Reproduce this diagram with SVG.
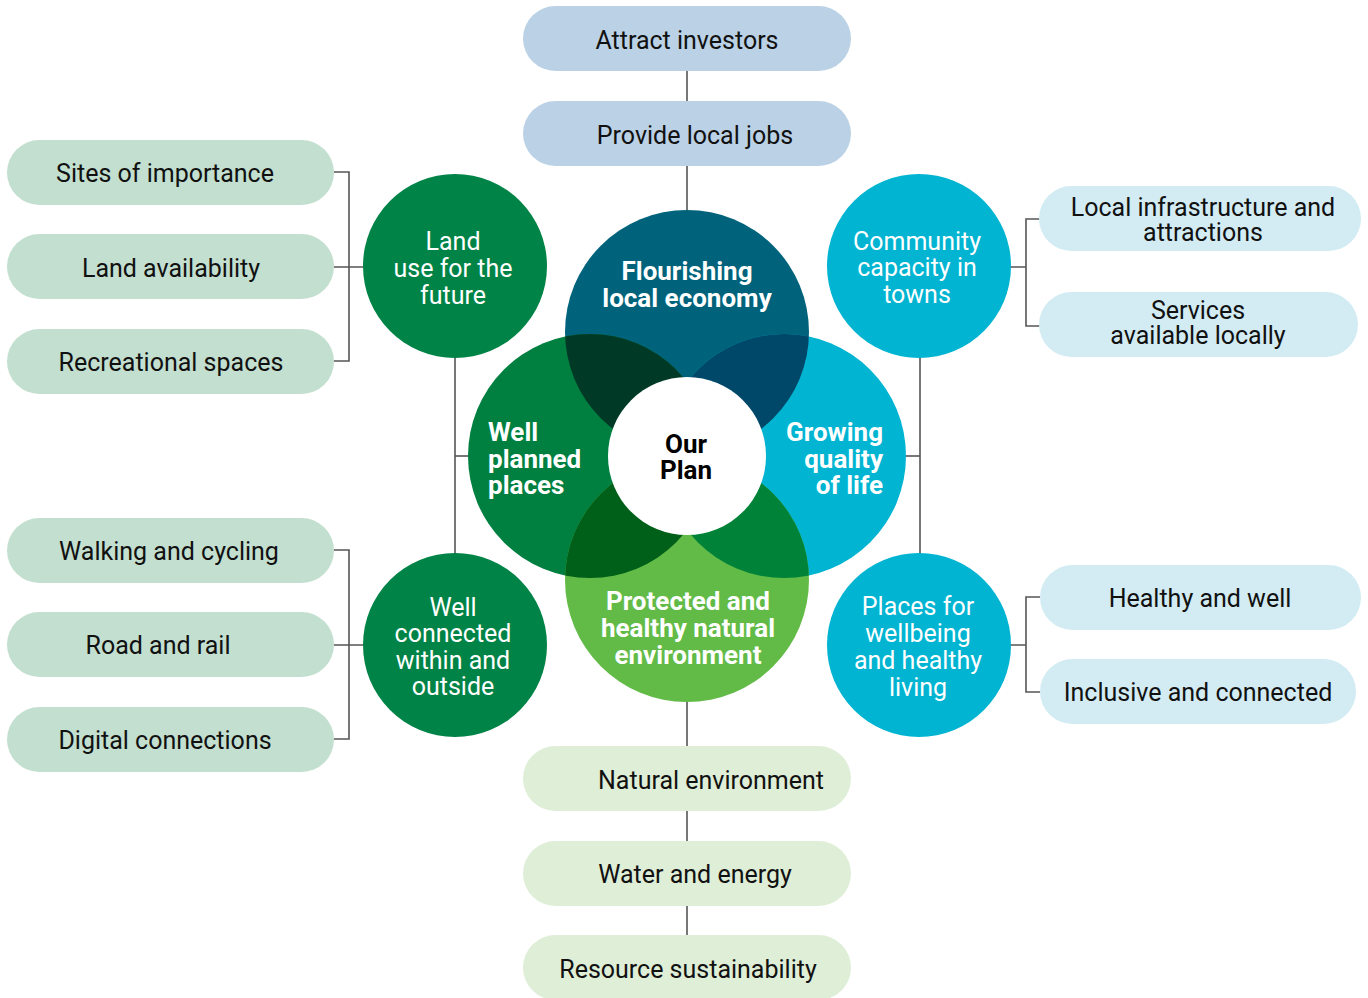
<svg xmlns="http://www.w3.org/2000/svg" width="1368" height="998" viewBox="0 0 1368 998">
<defs>
<style>
.t{font-family:Roboto,"Liberation Sans",sans-serif;font-size:25px;fill:#111;text-anchor:middle}
.w{font-family:Roboto,"Liberation Sans",sans-serif;font-size:25px;fill:#fff;text-anchor:middle}
.b{font-family:Roboto,"Liberation Sans",sans-serif;font-size:26px;font-weight:bold;fill:#fff;text-anchor:middle}
.ln{stroke:#555;stroke-width:1.6;fill:none}
.pl{fill:#C3DFCF}.pt{fill:#BBD2E6}.pb{fill:#DFEED7}.pr{fill:#D3ECF3}
</style>
<clipPath id="cTop"><circle cx="687" cy="332" r="122"/></clipPath>
<clipPath id="cBot"><circle cx="687" cy="580" r="122"/></clipPath>
</defs>
<rect width="1368" height="998" fill="#fff"/>
<g id="connectors">
<line class="ln" x1="687" y1="70" x2="687" y2="212"/>
<line class="ln" x1="687" y1="700" x2="687" y2="936"/>
<line class="ln" x1="455" y1="266" x2="455" y2="645"/>
<line class="ln" x1="455" y1="456" x2="470" y2="456"/>
<line class="ln" x1="920" y1="266" x2="920" y2="645"/>
<line class="ln" x1="904" y1="456" x2="920" y2="456"/>
<path class="ln" d="M334 172H349V361H334M334 267H364"/>
<path class="ln" d="M334 550H349V739H334M334 645H364"/>
<path class="ln" d="M1040 219H1026V326H1040M1010 267H1026"/>
<path class="ln" d="M1040 597H1026V692H1040M1010 645H1026"/>
</g>
<g id="pill-attract"><rect class="pt" x="523" y="6" width="328" height="65" rx="32.5"/><text class="t" x="687" y="49">Attract investors</text></g>
<g id="pill-jobs"><rect class="pt" x="523" y="101" width="328" height="65" rx="32.5"/><text class="t" x="695" y="144">Provide local jobs</text></g>
<g id="pill-natural"><rect class="pb" x="523" y="746" width="328" height="65" rx="32.5"/><text class="t" x="711" y="789">Natural environment</text></g>
<g id="pill-water"><rect class="pb" x="523" y="841" width="328" height="65" rx="32.5"/><text class="t" x="695" y="883">Water and energy</text></g>
<g id="pill-resource"><rect class="pb" x="523" y="935" width="328" height="65" rx="32.5"/><text class="t" x="688" y="978">Resource sustainability</text></g>
<g id="pill-sites"><rect class="pl" x="7" y="140" width="327" height="65" rx="32.5"/><text class="t" x="165" y="182">Sites of importance</text></g>
<g id="pill-land"><rect class="pl" x="7" y="234" width="327" height="65" rx="32.5"/><text class="t" x="171" y="277">Land availability</text></g>
<g id="pill-recreational"><rect class="pl" x="7" y="329" width="327" height="65" rx="32.5"/><text class="t" x="171" y="371">Recreational spaces</text></g>
<g id="pill-walking"><rect class="pl" x="7" y="518" width="327" height="65" rx="32.5"/><text class="t" x="169" y="560">Walking and cycling</text></g>
<g id="pill-road"><rect class="pl" x="7" y="612" width="327" height="65" rx="32.5"/><text class="t" x="158" y="654">Road and rail</text></g>
<g id="pill-digital"><rect class="pl" x="7" y="707" width="327" height="65" rx="32.5"/><text class="t" x="165" y="749">Digital connections</text></g>
<g id="pill-infra"><rect class="pr" x="1039" y="186" width="322" height="65" rx="32.5"/><text class="t" x="1203" y="216">Local infrastructure and</text><text class="t" x="1203" y="241">attractions</text></g>
<g id="pill-services"><rect class="pr" x="1039" y="292" width="319" height="65" rx="32.5"/><text class="t" x="1198" y="319">Services</text><text class="t" x="1198" y="344">available locally</text></g>
<g id="pill-healthy"><rect class="pr" x="1040" y="565" width="321" height="65" rx="32.5"/><text class="t" x="1200" y="607">Healthy and well</text></g>
<g id="pill-inclusive"><rect class="pr" x="1040" y="659" width="316" height="65" rx="32.5"/><text class="t" x="1198" y="701">Inclusive and connected</text></g>
<g id="circle-land"><circle cx="455" cy="266" r="92" fill="#008346"/><text class="w" x="453" y="250">Land</text><text class="w" x="453" y="277">use for the</text><text class="w" x="453" y="304">future</text></g>
<g id="circle-connected"><circle cx="455" cy="645" r="92" fill="#008346"/><text class="w" x="453" y="616">Well</text><text class="w" x="453" y="642">connected</text><text class="w" x="453" y="669">within and</text><text class="w" x="453" y="695">outside</text></g>
<g id="circle-community"><circle cx="919" cy="266" r="92" fill="#00B4D2"/><text class="w" x="917" y="250">Community</text><text class="w" x="917" y="276">capacity in</text><text class="w" x="917" y="303">towns</text></g>
<g id="circle-places"><circle cx="919" cy="645" r="92" fill="#00B4D2"/><text class="w" x="918" y="615">Places for</text><text class="w" x="918" y="642">wellbeing</text><text class="w" x="918" y="669">and healthy</text><text class="w" x="918" y="696">living</text></g>
<g id="core">
<circle cx="687" cy="332" r="122" fill="#00637B"/>
<circle cx="590" cy="456" r="122" fill="#008040"/>
<circle cx="784" cy="456" r="122" fill="#00B4D2"/>
<circle cx="687" cy="580" r="122" fill="#62BB47"/>
<circle cx="590" cy="456" r="122" fill="#003A27" clip-path="url(#cTop)"/>
<circle cx="784" cy="456" r="122" fill="#00486A" clip-path="url(#cTop)"/>
<circle cx="590" cy="456" r="122" fill="#005F19" clip-path="url(#cBot)"/>
<circle cx="784" cy="456" r="122" fill="#008338" clip-path="url(#cBot)"/>
<circle cx="687" cy="456" r="79" fill="#fff"/>
</g>
<g id="node-economy"><text class="b" x="687" y="280">Flourishing</text><text class="b" x="687" y="307">local economy</text></g>
<g id="node-planned"><text class="b" x="488" y="441" style="text-anchor:start">Well</text><text class="b" x="488" y="468" style="text-anchor:start">planned</text><text class="b" x="488" y="494" style="text-anchor:start">places</text></g>
<g id="node-quality"><text class="b" x="883" y="441" style="text-anchor:end">Growing</text><text class="b" x="883" y="468" style="text-anchor:end">quality</text><text class="b" x="883" y="494" style="text-anchor:end">of life</text></g>
<g id="node-natural"><text class="b" x="688" y="610">Protected and</text><text class="b" x="688" y="637">healthy natural</text><text class="b" x="688" y="664">environment</text></g>
<g id="node-plan"><text class="b" x="686" y="453" style="fill:#000">Our</text><text class="b" x="686" y="479" style="fill:#000">Plan</text></g>
</svg>
